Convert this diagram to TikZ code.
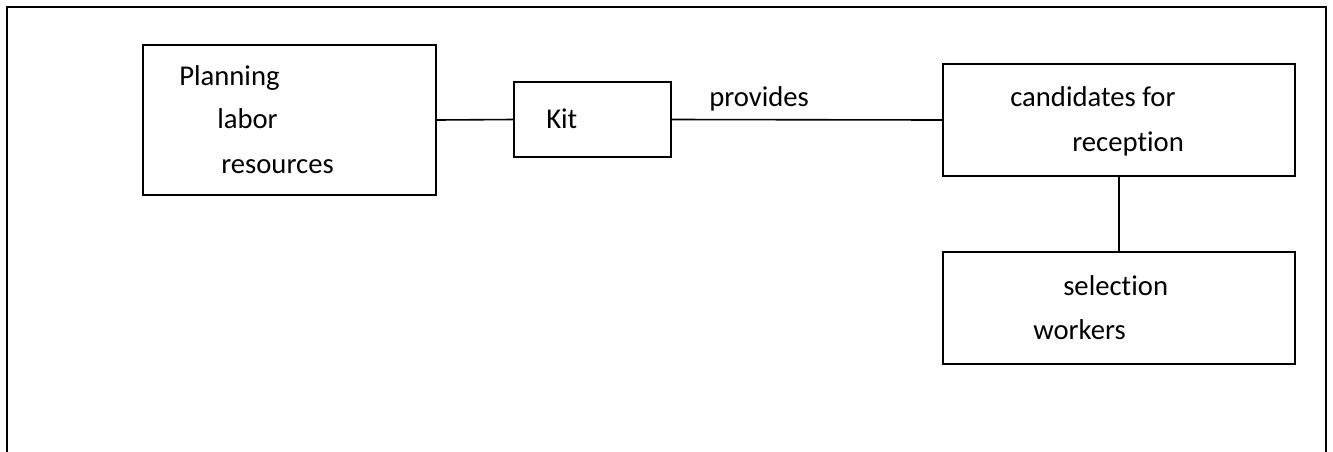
\documentclass[tikz,border=0pt]{standalone}
\usepackage{fontspec}
\setmainfont[Ligatures=NoCommon]{Carlito}
\begin{document}
\begin{tikzpicture}[x=0.75pt,y=-0.75pt,
  box/.style={draw=black,line width=1.25pt,rectangle,inner sep=0pt},
  lbl/.style={inner sep=0pt,anchor=base west,font=\fontsize{21.5}{26}\selectfont},
  conn/.style={draw=black,line width=1.2pt},
  frame/.style={draw=black,line width=2.2pt}]
\useasboundingbox (0,0) rectangle (1333,451);
% outer frame (open at the bottom)
\coordinate (fbl) at (7,452);
\coordinate (ftl) at (7,7);
\coordinate (ftr) at (1326,7);
\coordinate (fbr) at (1326,452);
\draw[frame] (fbl) -- (ftl) -- (ftr) -- (fbr);
% boxes
\node[box,minimum width=293*0.75pt,minimum height=150*0.75pt] (plan) at (289.5,120) {};
\node[box,minimum width=157*0.75pt,minimum height=75*0.75pt] (kit) at (592.5,119.5) {};
\node[box,minimum width=352*0.75pt,minimum height=112*0.75pt] (cand) at (1119,120) {};
\node[box,minimum width=352*0.75pt,minimum height=112*0.75pt] (sel) at (1119,308) {};
% texts
\node[lbl] (t1) at (179,85) {Planning};
\node[lbl] (t2) at (217,128) {labor};
\node[lbl] (t3) at (221,173) {resources};
\node[lbl] (t4) at (546,128) {Kit};
\node[lbl] (t5) at (709,106) {provides};
\node[lbl] (t6) at (1010,106) {candidates for};
\node[lbl] (t7) at (1072,151) {reception};
\node[lbl] (t8) at (1063,295) {selection};
\node[lbl] (t9) at (1033,339) {workers};
% connectors
\draw[conn] (plan.east) -- (kit.west);
\draw[conn] (kit.east) -- (cand.west);
\draw[conn] (cand.south) -- (sel.north);
\end{tikzpicture}
\end{document}
